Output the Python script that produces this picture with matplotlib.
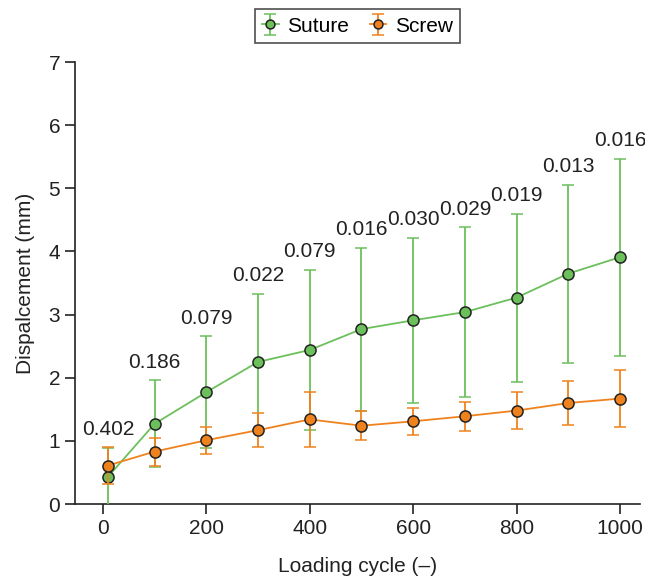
import numpy as np
import matplotlib
matplotlib.use("Agg")
import matplotlib.pyplot as plt

plt.rcParams['font.family'] = ['Liberation Sans', 'DejaVu Sans']

cycles = [10, 100, 200, 300, 400, 500, 600, 700, 800, 900, 1000]
suture = [0.43, 1.27, 1.77, 2.25, 2.44, 2.77, 2.91, 3.04, 3.27, 3.65, 3.91]
suture_err = [0.46, 0.69, 0.89, 1.08, 1.27, 1.29, 1.31, 1.34, 1.33, 1.41, 1.56]
screw = [0.61, 0.83, 1.01, 1.17, 1.34, 1.24, 1.31, 1.39, 1.48, 1.60, 1.67]
screw_err = [0.29, 0.22, 0.21, 0.27, 0.43, 0.23, 0.21, 0.23, 0.29, 0.35, 0.45]
p_values = ["0.402", "0.186", "0.079", "0.022", "0.079", "0.016",
            "0.030", "0.029", "0.019", "0.013", "0.016"]

green = '#6cc05c'
orange = '#f0821e'
fs = 15

fig = plt.figure(figsize=(6.45, 5.8), dpi=100)
ax = fig.add_axes([0.116, 0.131, 0.876, 0.762])

ax.errorbar(cycles, suture, yerr=suture_err, color=green, ecolor=green,
            lw=1.3, elinewidth=1.3, capsize=4, capthick=1.3,
            marker='o', ms=8, mfc=green, mec='#222222', mew=1.1,
            label='Suture', zorder=3)
ax.errorbar(cycles, screw, yerr=screw_err, color=orange, ecolor=orange,
            lw=1.3, elinewidth=1.3, capsize=4, capthick=1.3,
            marker='o', ms=8, mfc=orange, mec='#222222', mew=1.1,
            label='Screw', zorder=4)

for x, y, e, p in zip(cycles, suture, suture_err, p_values):
    ax.annotate(p, (x, y + e), xytext=(0, 6), textcoords='offset points',
                ha='center', va='bottom', fontsize=fs, color='#222222')

ax.set_xlim(-54, 1038)
ax.set_ylim(0, 7)
ax.set_xticks([0, 200, 400, 600, 800, 1000])
ax.set_yticks(range(0, 8))
ax.tick_params(direction='out', length=7, width=1.2, labelsize=fs,
               colors='#222222')
for s in ['top', 'right']:
    ax.spines[s].set_visible(False)
for s in ['left', 'bottom']:
    ax.spines[s].set_linewidth(1.2)
    ax.spines[s].set_color('#222222')

ax.set_xlabel('Loading cycle (–)', fontsize=fs, labelpad=14, color='#222222')
ax.set_ylabel('Dispalcement (mm)', fontsize=fs, labelpad=10, color='#222222')

leg = ax.legend(loc='lower center', bbox_to_anchor=(0.5, 1.02), ncol=2,
                fontsize=fs, frameon=True, fancybox=False, edgecolor='#222222',
                handlelength=0.8, handletextpad=0.4, columnspacing=1.0,
                borderpad=0.35, markerscale=0.8)
leg.get_frame().set_linewidth(1.2)

fig.savefig('out.png', dpi=100)
